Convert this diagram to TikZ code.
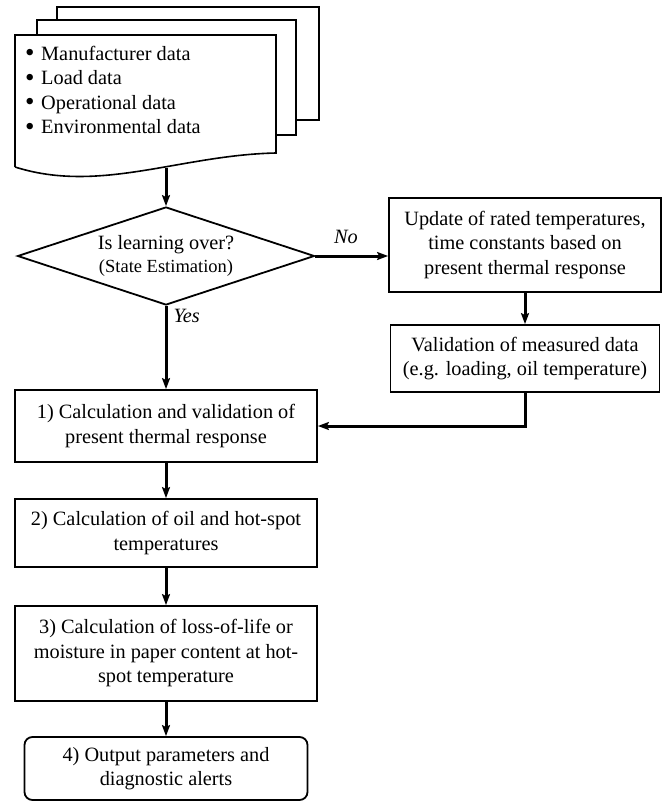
\documentclass[tikz,border=0pt]{standalone}
\usepackage{fontspec}
\setmainfont{Liberation Serif}
\usetikzlibrary{arrows.meta,shapes,positioning}
\newcommand{\bigbul}{\makebox[16pt][l]{\raisebox{-1.6pt}{\fontsize{27}{27}\selectfont\textbullet}}}

\begin{document}
\begin{tikzpicture}[x=1pt,y=-1pt,
every node/.style={font=\fontsize{20.3}{24.5}\selectfont, align=center},
box/.style={draw, line width=1.8pt, rectangle, inner sep=0pt},
decision/.style={draw, line width=1.8pt, diamond, aspect=3.03, inner sep=0pt,
    minimum width=297pt, minimum height=98pt},
flow/.style={line width=3pt, -{Stealth[length=11pt,width=8pt,inset=2pt]}},
lbl/.style={font=\fontsize{20.3}{24.5}\selectfont\itshape, inner sep=2pt},
sheet/.style={line width=1.6pt}]
\useasboundingbox (0,0) rectangle (666,802);

% stacked input documents
\draw[sheet] (57,20) -- (57,7) -- (319,7) -- (319,120) -- (296,120);
\draw[sheet] (37,35) -- (37,20) -- (296,20) -- (296,135) -- (276,135);
\draw[sheet] (15,167) -- (15,35) -- (276,35) -- (276,153)
	.. controls (180,155) and (100,194) .. (15,167);
\node[anchor=west, align=left, inner sep=0pt] (data) at (25,90.5) {
	\bigbul Manufacturer data\\
	\bigbul Load data\\
	\bigbul Operational data\\
	\bigbul Environmental data};
\coordinate (docb) at (166,168);

% decision
\node[decision] (learn) at (166,256) {Is learning over?\\[-1.5pt]
	{\fontsize{18.5}{22}\selectfont (State Estimation)}};

% learning branch
\node[box, minimum width=272pt, minimum height=94pt] (upd) at (525,245)
	{Update of rated temperatures,\\ time constants based on\\ present thermal response};
\node[box, minimum width=269pt, minimum height=67pt] (valid) at (525,358.5)
	{Validation of measured data\\ (e.g. loading, oil temperature)};

% main column
\node[box, minimum width=302pt, minimum height=72pt] (calc1) at (166,426)
	{1) Calculation and validation of\\ present thermal response};
\node[box, minimum width=302pt, minimum height=68pt] (calc2) at (166,533)
	{2) Calculation of oil and hot-spot\\ temperatures};
\node[box, minimum width=302pt, minimum height=95pt] (calc3) at (166,653.5)
	{3) Calculation of loss-of-life or\\ moisture in paper content at hot-\\ spot temperature};
\node[box, rounded corners=8pt, minimum width=283pt, minimum height=63pt] (outp) at (166,768.5)
	{4) Output parameters and\\ diagnostic alerts};

\draw[flow] (docb) -- (learn.north);
\draw[flow] (learn.east) -- (learn.east -| upd.west)
	node[pos=0.42, above=9pt, lbl] {No};
\draw[flow] (learn.south) -- (calc1.north)
	node[pos=0.12, right=4pt, lbl] {Yes};
\draw[flow] (upd.south) -- (valid.north);
\draw[flow] (valid.south) |- (calc1.east);
\draw[flow] (calc1.south) -- (calc2.north);
\draw[flow] (calc2.south) -- (calc3.north);
\draw[flow] (calc3.south) -- (outp.north);
\end{tikzpicture}
\end{document}
